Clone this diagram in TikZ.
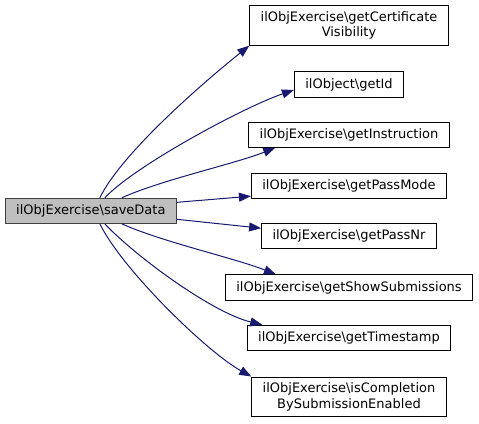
\documentclass[tikz,border=0pt]{standalone}
\usepackage{fontspec}
\setmainfont{DejaVu Sans}
\usetikzlibrary{arrows.meta}
\definecolor{edgeblue}{HTML}{191970}
\tikzset{
  fn/.style={draw=black,line width=0.8pt,fill=white,inner xsep=11pt,inner ysep=5.75pt,
    minimum height=25.3pt,align=center,font=\fontsize{13}{15.5}\selectfont},
  cur/.style={fn,fill=black!25,draw=black!75},
  call/.style={draw=edgeblue,line width=1pt,-{Triangle[length=12pt,width=9pt]}}
}
\begin{document}
\begin{tikzpicture}[x=1pt,y=1pt]
\useasboundingbox (0,0) rectangle (479,-423);
% caller
\node[cur] (save) at (90.85,-210.8) {ilObjExercise\textbackslash saveData};
% callees
\node[fn] (certvis) at (349,-25.5) {ilObjExercise\textbackslash getCertificate\\Visibility};
\node[fn] (getid) at (349,-84.5) {ilObject\textbackslash getId};
\node[fn] (instr) at (349,-134.7) {ilObjExercise\textbackslash getInstruction};
\node[fn] (passmode) at (349,-186.2) {ilObjExercise\textbackslash getPassMode};
\node[fn] (passnr) at (349,-236.2) {ilObjExercise\textbackslash getPassNr};
\node[fn] (showsub) at (349,-287.5) {ilObjExercise\textbackslash getShowSubmissions};
\node[fn] (tstamp) at (349,-337.8) {ilObjExercise\textbackslash getTimestamp};
\node[fn] (compl) at (349,-396.7) {ilObjExercise\textbackslash isCompletion\\BySubmissionEnabled};
% calls
\draw[call] ([xshift=9pt]save.north) .. controls +(22,45) and +(-45,-36) .. (certvis.south west);
\draw[call] ([xshift=14pt]save.north) .. controls +(30,32) and +(-50,-17) .. ([yshift=-5.5pt]getid.west);
\draw[call] ([xshift=31pt]save.north) .. controls +(40,18) and +(-40,-16) .. ([xshift=27pt]instr.south west);
\draw[call] ([yshift=8.5pt]save.east) -- ([yshift=-10pt]passmode.west);
\draw[call] ([yshift=-8.5pt]save.east) -- ([yshift=8pt]passnr.west);
\draw[call] ([xshift=31pt]save.south) .. controls +(40,-18) and +(-40,16) .. ([xshift=51pt]showsub.north west);
\draw[call] ([xshift=14pt]save.south) .. controls +(30,-32) and +(-50,12) .. ([xshift=15.5pt]tstamp.north west);
\draw[call] ([xshift=9pt]save.south) .. controls +(22,-45) and +(-45,25) .. (compl.north west);
\end{tikzpicture}
\end{document}
